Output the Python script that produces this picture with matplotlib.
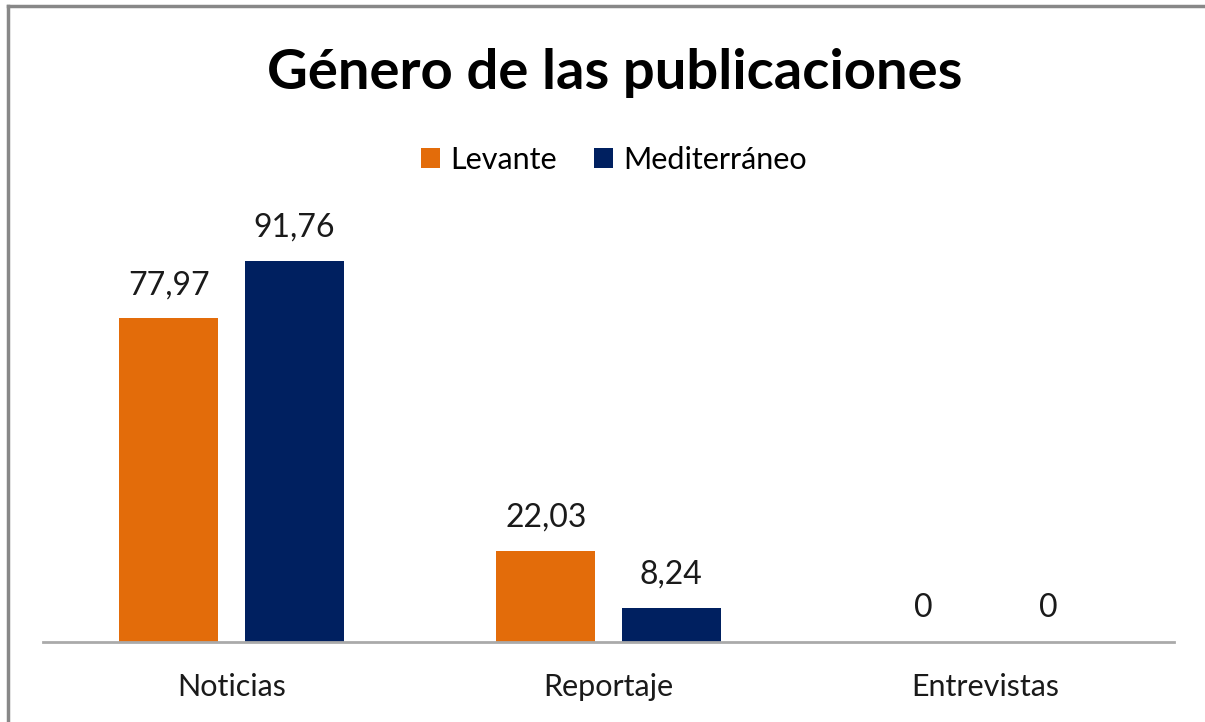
import matplotlib.pyplot as plt
import numpy as np
from matplotlib.lines import Line2D

# Datos del gráfico
categorias = ["Noticias", "Reportaje", "Entrevistas"]
levante = [77.97, 22.03, 0]
mediterraneo = [91.76, 8.24, 0]

color_levante = "#E36C0A"
color_medit = "#002060"

W, H = 1205, 722
fig = plt.figure(figsize=(W / 100, H / 100), dpi=100)
plt.rcParams["font.family"] = ["Lato", "DejaVu Sans"]

ax = fig.add_axes([43 / W, 80 / H, (1174 - 43) / W, 415.2 / H])

x = np.arange(len(categorias))
ancho = 0.263
desp = 0.166

b1 = ax.bar(x - desp, levante, ancho, color=color_levante, label="Levante")
b2 = ax.bar(x + desp, mediterraneo, ancho, color=color_medit, label="Mediterráneo")

def etiqueta(v):
    return f"{v:g}".replace(".", ",")

for barras, vals in [(b1, levante), (b2, mediterraneo)]:
    for rect, v in zip(barras, vals):
        ax.annotate(etiqueta(v), (rect.get_x() + rect.get_width() / 2, v),
                    xytext=(0, 13 if v > 0 else 14), textcoords="offset points",
                    ha="center", va="bottom", fontsize=23, color="#1a1a1a")

ax.set_xlim(-0.5, 2.5)
ax.set_ylim(0, 100)
ax.set_xticks(x)
ax.set_xticklabels(categorias, fontsize=22, color="#1a1a1a")
ax.tick_params(axis="x", length=0, pad=22)
ax.set_yticks([])
for s in ["top", "right", "left"]:
    ax.spines[s].set_visible(False)
ax.spines["bottom"].set_color("#aaaaaa")
ax.spines["bottom"].set_linewidth(2)

fig.text(615 / W, 1 - 73 / H, "Género de las publicaciones", ha="center", va="center",
         fontsize=40.5, fontweight="bold", color="black")

fig.legend(handles=[b1, b2], loc="center", bbox_to_anchor=(614 / W, 1 - 160 / H),
           ncol=2, frameon=False, fontsize=22, handlelength=0.62, handleheight=0.62,
           handletextpad=0.35, columnspacing=1.2, borderaxespad=0)

# Marco gris del gráfico
fig.add_artist(Line2D([8 / W, 8 / W], [0, 1 - 6 / H], color="#888888", lw=2.5,
                      transform=fig.transFigure))
fig.add_artist(Line2D([8 / W, 1], [1 - 6 / H, 1 - 6 / H], color="#888888", lw=2.5,
                      transform=fig.transFigure))

fig.savefig("out.png", dpi=100)
